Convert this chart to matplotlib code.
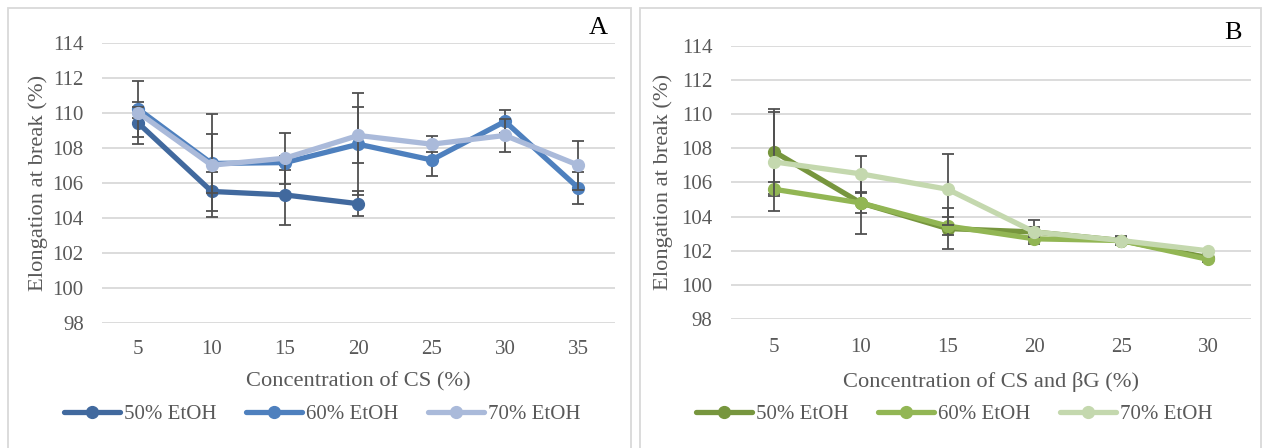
import matplotlib.pyplot as plt
import matplotlib.transforms as mtransforms
from matplotlib.patches import Rectangle

plt.rcParams['font.family'] = ['Liberation Serif', 'DejaVu Serif']

# panel A: concentration of CS
conc_a = ["5", "10", "15", "20", "25", "30", "35"]
a_50 = [109.4, 105.5, 105.3, 104.8]
a_50_err = [1.2, 1.1, 1.7, 0.7]
a_60 = [110.2, 107.1, 107.15, 108.2, 107.3, 109.5, 105.7]
a_60_err = [1.6, 1.7, 0.4, 2.9, 0.9, 0.65, 0.9]
a_70 = [110.0, 107.0, 107.4, 108.7, 108.2, 108.7, 107.0]
a_70_err = [0.3, 2.95, 1.45, 1.6, 0.45, 0.95, 1.4]

# panel B: concentration of CS and beta-glucan
conc_b = ["5", "10", "15", "20", "25", "30"]
b_50 = [107.8, 104.8, 103.3, 103.1, 102.6, 101.6]
b_50_err = [2.5, 1.8, 1.2, 0.7, 0.25, 0.15]
b_60 = [105.6, 104.8, 103.45, 102.7, 102.6, 101.5]
b_60_err = [0.4, 0.6, 0.55, 0.2, 0.2, 0.15]
b_70 = [107.2, 106.5, 105.6, 103.1, 102.6, 102.0]
b_70_err = [2.9, 1.07, 2.07, 0.3, 0.2, 0.1]

labels = ["50% EtOH", "60% EtOH", "70% EtOH"]
blues = ["#41699E", "#4E80BE", "#AABADA"]
greens = ["#77963E", "#92B654", "#C4D8AE"]

GRAY = "#595959"
GRID = "#D9D9D9"
W, H = 1264, 448

fig = plt.figure(figsize=(W / 100, H / 100), dpi=100)

# panel frames
for x0, x1 in [(8, 631), (640, 1261)]:
    fig.patches.append(Rectangle((x0 / W, -0.05), (x1 - x0) / W, 1.05 - 8 / H,
                                 transform=fig.transFigure, fill=False,
                                 edgecolor=GRID, lw=1.3))

ax_a = fig.add_axes([101.7 / W, 1 - 322.7 / H, (615 - 101.7) / W, 280 / H])
ax_b = fig.add_axes([730.6 / W, 1 - 319.2 / H, (1251.4 - 730.6) / W, 273.6 / H])


def draw_panel(ax, cats, series, errs, colors, xlabel, panel_cx, ylab_x, tick_pad):
    for vals, err, col, lab in zip(series, errs, colors, labels):
        xs = list(range(len(vals)))
        ax.errorbar(xs, vals, yerr=err, fmt='none', ecolor="#505050", elinewidth=1.3,
                    capsize=4, capthick=1.3, zorder=3)
        ax.plot(xs, vals, color=col, lw=3.8, marker='o', markersize=8.5,
                label=lab, zorder=3, solid_capstyle='round')
    ax.set_xlim(-0.5, len(cats) - 0.5)
    ax.set_ylim(98, 114)
    ax.set_xticks(range(len(cats)))
    ax.set_xticklabels(cats)
    ax.set_yticks(range(98, 115, 2))
    ax.grid(axis='y', color=GRID, lw=1.3)
    ax.set_axisbelow(True)
    for s in ax.spines.values():
        s.set_visible(False)
    ax.tick_params(axis='both', length=0, labelsize=15, colors=GRAY)
    ax.tick_params(axis='x', pad=tick_pad)
    ax.tick_params(axis='y', pad=13)
    ax.set_xlabel(xlabel, fontsize=16.2, color=GRAY)
    ax.xaxis.set_label_coords(0.5, 1 - 372 / H,
                              transform=mtransforms.blended_transform_factory(ax.transAxes, fig.transFigure))
    ax.set_ylabel("Elongation at break (%)", fontsize=16.2, color=GRAY)
    ax.yaxis.set_label_coords(ylab_x / W, 0.5,
                              transform=mtransforms.blended_transform_factory(fig.transFigure, ax.transAxes))
    leg = ax.legend(loc='center', bbox_to_anchor=(panel_cx / W, 1 - 414 / H),
                    bbox_transform=fig.transFigure, ncol=3, frameon=False,
                    fontsize=15, handlelength=2.7, handletextpad=0.2,
                    columnspacing=1.4)
    for t in leg.get_texts():
        t.set_color(GRAY)


draw_panel(ax_a, conc_a, [a_50, a_60, a_70], [a_50_err, a_60_err, a_70_err],
           blues, "Concentration of CS (%)", 322, 48, 12.5)
draw_panel(ax_b, conc_b, [b_50, b_60, b_70], [b_50_err, b_60_err, b_70_err],
           greens, "Concentration of CS and βG (%)", 954, 673, 13.5)

fig.text(598 / W, 1 - 28 / H, "A", fontsize=19, color="black", ha='center', va='center')
fig.text(1233 / W, 1 - 33 / H, "B", fontsize=19, color="black", ha='center', va='center')

fig.savefig("out.png", dpi=100)
